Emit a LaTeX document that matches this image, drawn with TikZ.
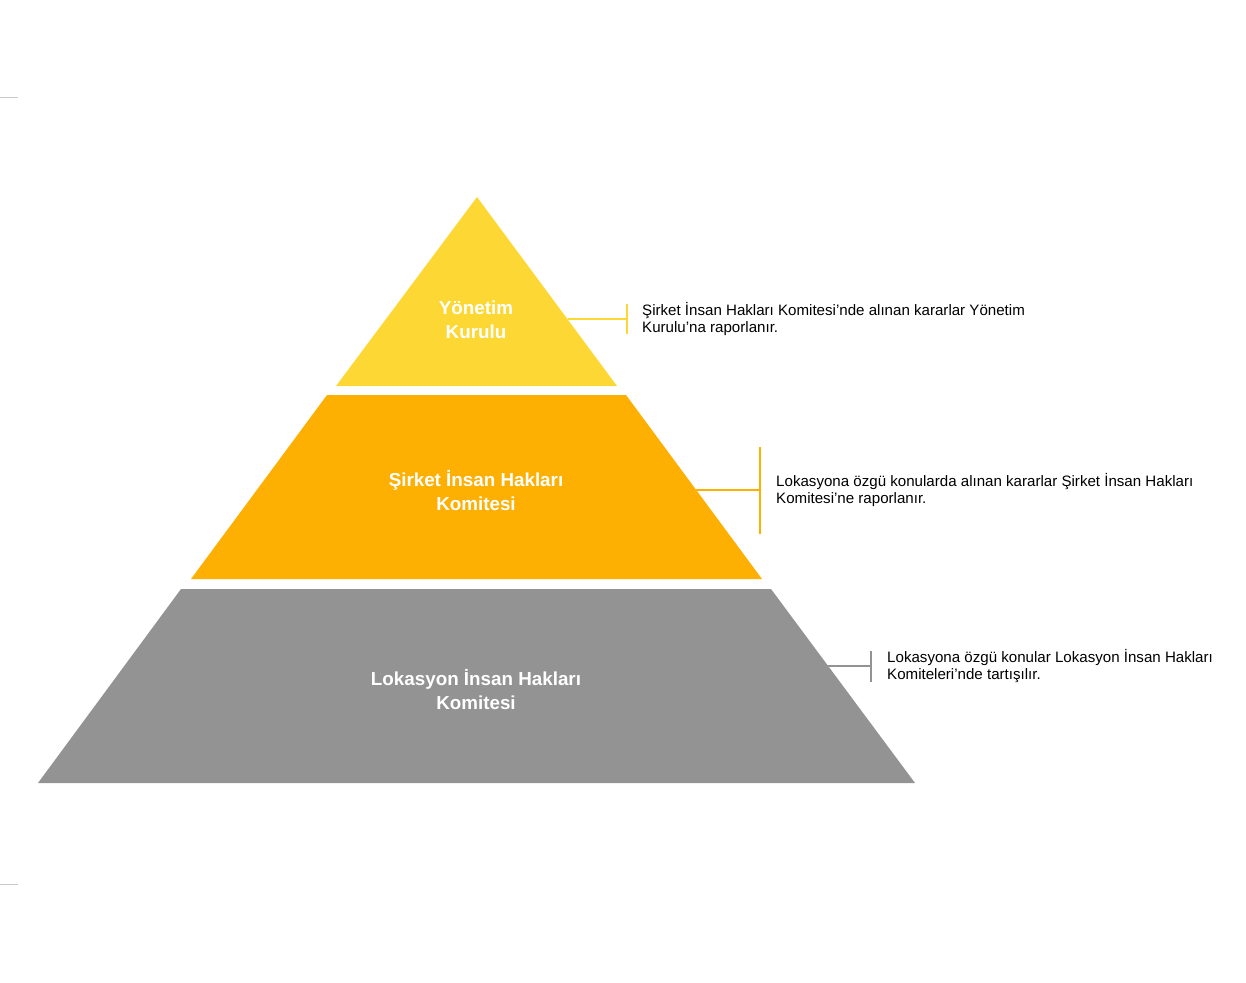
\documentclass[tikz,border=0pt]{standalone}
\usepackage{fontspec}
\setmainfont{Liberation Sans}
\definecolor{cyellow}{HTML}{FDD835}
\definecolor{camber}{HTML}{FDB002}
\definecolor{cgray}{HTML}{939393}
\definecolor{cmark}{HTML}{C8C8C8}
\begin{document}
\begin{tikzpicture}[x=1pt,y=-1pt,
  lbl/.style={text=white,font=\fontsize{18.8}{24}\selectfont\bfseries,align=center,inner sep=0pt},
  note/.style={font=\fontsize{15.1}{17}\selectfont,align=left,anchor=west,inner sep=0pt,text=black},
  conn/.style={line width=1.3pt}]
\useasboundingbox (0,0) rectangle (1246,982);
% left marks
\coordinate (m1a) at (0,97); \coordinate (m1b) at (18,97);
\coordinate (m2a) at (0,884); \coordinate (m2b) at (18,884);
\draw[cmark,line width=1pt] (m1a) -- (m1b);
\draw[cmark,line width=1pt] (m2a) -- (m2b);
% pyramid
\fill[cyellow] (477,197) -- (617,386) -- (336,386) -- cycle;
\fill[camber] (327,395) -- (626,395) -- (762,579) -- (191,579) -- cycle;
\fill[cgray] (181,589) -- (771,589) -- (915,783) -- (38,783) -- cycle;
% labels
\node[lbl] (l1) at (476,320) {Yönetim\\Kurulu};
\node[lbl] (l2) at (476,491) {Şirket İnsan Hakları\\Komitesi};
\node[lbl] (l3) at (476,690) {Lokasyon İnsan Hakları\\Komitesi};
% connectors
\coordinate (e1) at (568,319); \coordinate (b1) at (627,319);
\coordinate (b1t) at (627,304); \coordinate (b1b) at (627,334);
\draw[conn,cyellow] (e1) -- (b1);
\draw[conn,cyellow] (b1t) -- (b1b);
\node[note] (n1) at (642,319.5) {Şirket İnsan Hakları Komitesi’nde alınan kararlar Yönetim\\Kurulu’na raporlanır.};
\coordinate (e2) at (696,490); \coordinate (b2) at (760,490);
\coordinate (b2t) at (760,447); \coordinate (b2b) at (760,534);
\draw[conn,camber] (e2) -- (b2);
\draw[conn,camber] (b2t) -- (b2b);
\node[note] (n2) at (776,490) {Lokasyona özgü konularda alınan kararlar Şirket İnsan Hakları\\Komitesi’ne raporlanır.};
\coordinate (e3) at (828,666); \coordinate (b3) at (871,666);
\coordinate (b3t) at (871,651); \coordinate (b3b) at (871,682);
\draw[conn,cgray] (e3) -- (b3);
\draw[conn,cgray] (b3t) -- (b3b);
\node[note] (n3) at (887,666.5) {Lokasyona özgü konular Lokasyon İnsan Hakları\\Komiteleri’nde tartışılır.};
\end{tikzpicture}
\end{document}
